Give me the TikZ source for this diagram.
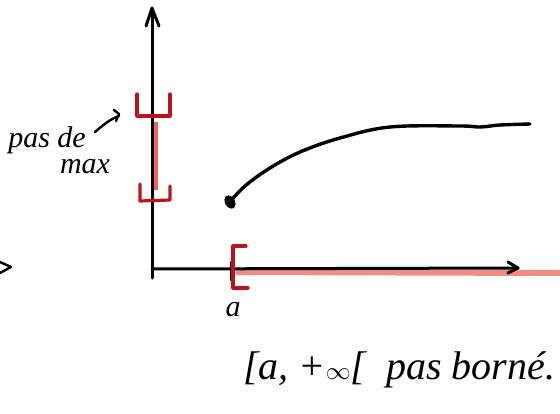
\documentclass[tikz,border=0pt]{standalone}
\usepackage{fontspec}
\setmainfont{Liberation Serif}
\begin{document}
\begin{tikzpicture}[x=1pt,y=-1pt,
  ink/.style={line width=3pt,line cap=round,line join=round,black},
  redink/.style={line width=3.2pt,line cap=round,line join=round,color=brk},
  hl/.style={line width=6pt,color=hlred,opacity=0.8},
  hand/.style={font=\itshape\fontsize{30}{32}\selectfont,inner sep=0pt}]
\definecolor{brk}{HTML}{B8161C}
\definecolor{hlred}{HTML}{E8402F}
\useasboundingbox (0,0) rectangle (560,413);
% highlights
\draw[hl] (155,122) -- (155,190);
\draw[hl,opacity=0.6] (236,272) -- (560,273);
% axes
\coordinate (O) at (152,269);
\coordinate (ytop) at (152,10);
\coordinate (ybot) at (152,278);
\coordinate (xend) at (518,268);
\draw[ink] (ybot) -- (ytop);
\draw[ink] (146,26) -- (152,8) -- (159,26);
\draw[ink] (O) -- (xend);
\draw[ink] (508,262) -- (518,268) -- (508,273);
% tick at a
\coordinate (ta) at (231,262);
\coordinate (tb) at (231,280);
\draw[ink] (ta) -- (tb);
\node[hand] (a) at (233,310) {a};
% red bracket at a
\draw[redink] (246,246) -- (233,246) -- (233,288) -- (248,288);
% red brackets on y axis
\draw[redink] (137,94) -- (137,116) -- (170,116) -- (170,94);
\draw[redink] (140,184) -- (140,201) -- (170,200) -- (170,186);
% curve
\draw[ink,line width=3.4pt] plot[smooth,tension=0.6] coordinates {(228,204) (245,186) (270,168) (300,152) (340,138) (390,127) (460,126) (480,127) (500,125) (530,124)};
\fill[black,rotate around={30:(230,202)}] (230,202) ellipse (5pt and 7pt);
% left label
\node[hand] (pas) at (47,140) {pas de};
\node[hand] (max) at (85,167) {max};
\coordinate (arrs) at (95,132);
\coordinate (arre) at (119,116);
\draw[ink,line width=2.4pt] (arrs) .. controls (102,126) and (110,119) .. (arre);
\draw[ink,line width=2.4pt] (114,110) -- (119,114) -- (116,121);
% left edge mark
\draw[ink,line width=2.4pt] (0,262) -- (11,267) -- (0,273);
% bottom text
\node[hand,anchor=west,font=\itshape\fontsize{40}{42}\selectfont] (txt) at (243,370) {[a, +$\infty$[\ \ pas born\'e.};
\end{tikzpicture}
\end{document}
